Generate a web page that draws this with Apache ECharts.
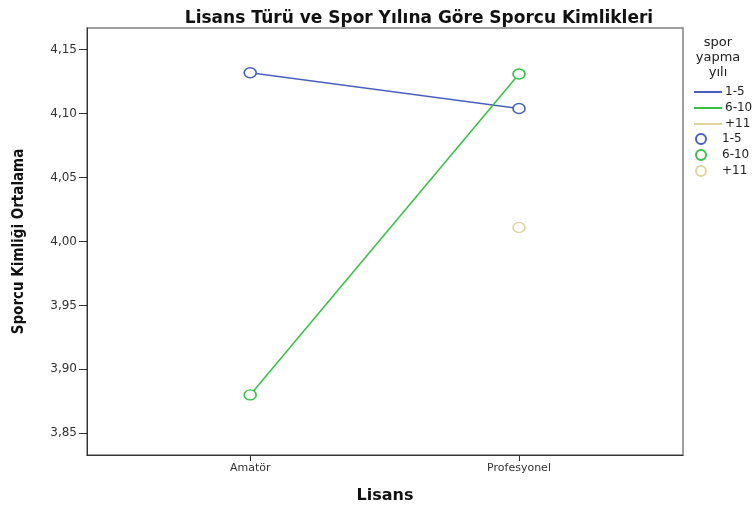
<!DOCTYPE html>
<html>
<head>
<meta charset="utf-8">
<script src="https://cdn.jsdelivr.net/npm/echarts@6/dist/echarts.min.js"></script>
<style>
html,body{margin:0;padding:0;background:#fff;}
#chart{width:752px;height:509px;}
</style>
</head>
<body>
<div id="chart"></div>
<script>
const categories = ['Amatör', 'Profesyonel'];
const groups = ['1-5', '6-10', '+11'];
const values_1_5 = [4.132, 4.104];
const values_6_10 = [3.880, 4.131];
const values_11 = [null, 4.011];
const yTicks = [3.85, 3.90, 3.95, 4.00, 4.05, 4.10, 4.15];
const colors = ['#4A60BC', '#38BE48', '#DCD5A0'];

const seriesValues = [values_1_5, values_6_10, values_11];
const toPairs = arr => arr.map((v, i) => [i, v]);
const FONT = 'DejaVu Sans';

const series = [];
groups.forEach((g, k) => {
  series.push({
    name: g, type: 'line', data: toPairs(seriesValues[k]),
    symbol: 'none', lineStyle: {color: colors[k], width: 1.5},
    itemStyle: {color: colors[k]}, connectNulls: false, z: 2
  });
});
groups.forEach((g, k) => {
  series.push({
    name: g + ' ', type: 'scatter', data: toPairs(seriesValues[k]).filter(p => p[1] != null),
    symbol: 'circle', symbolSize: [12, 10],
    itemStyle: {color: '#fff', borderColor: colors[k], borderWidth: 1.5, opacity: 1}, z: 3
  });
});

const chart = echarts.init(document.getElementById('chart'), null, {renderer: 'canvas'});
chart.setOption({
  animation: false,
  backgroundColor: '#fff',
  title: {
    text: 'Lisans Türü ve Spor Yılına Göre Sporcu Kimlikleri',
    left: 414, top: 5, textAlign: 'center',
    textStyle: {fontFamily: FONT, fontWeight: 'bold', fontSize: 17, color: '#111'}
  },
  grid: {left: 87, top: 28, right: 69, bottom: 53, show: true, borderColor: '#808080', borderWidth: 1.5},
  xAxis: {
    type: 'value', min: -0.607, max: 1.61,
    name: 'Lisans', nameLocation: 'middle', nameGap: 33,
    nameTextStyle: {fontFamily: FONT, fontWeight: 'bold', fontSize: 16, color: '#111'},
    axisLine: {onZero: false, lineStyle: {color: '#333', width: 1}},
    axisTick: {show: true, customValues: [0, 1], length: 6, lineStyle: {color: '#333'}},
    axisLabel: {customValues: [0, 1], formatter: v => categories[Math.round(v)],
      fontFamily: FONT, fontSize: 11, color: '#333', margin: 8},
    splitLine: {show: false}
  },
  yAxis: {
    type: 'value', min: 3.833, max: 4.167,
    name: 'Sporcu Kimliği Ortalama', nameLocation: 'middle', nameGap: 60, nameRotate: 90,
    nameTextStyle: {fontFamily: 'Liberation Sans Narrow, DejaVu Sans Condensed', fontWeight: 'bold', fontSize: 15, color: '#111'},
    axisLine: {show: true, onZero: false, lineStyle: {color: '#333', width: 1}},
    axisTick: {show: true, customValues: yTicks, length: 8, lineStyle: {color: '#333'}},
    axisLabel: {customValues: yTicks, formatter: v => v.toFixed(2).replace('.', ','),
      fontFamily: FONT, fontSize: 12, color: '#333', margin: 10},
    splitLine: {show: false}
  },
  legend: [
    {
      data: groups, left: 689, top: 80, orient: 'vertical',
      icon: 'rect', itemWidth: 28, itemHeight: 2, itemGap: 2,
      selectedMode: false,
      textStyle: {fontFamily: FONT, fontSize: 12, color: '#222', lineHeight: 14, padding: [0, 0, 0, -2]}
    },
    {
      data: groups.map(g => g + ' '), left: 690, top: 127, orient: 'vertical',
      icon: 'circle', itemWidth: 12, itemHeight: 10, itemGap: 2,
      selectedMode: false,
      textStyle: {fontFamily: FONT, fontSize: 12, color: '#222', lineHeight: 14, padding: [0, 0, 0, 10]}
    }
  ],
  graphic: [
    {type: 'text', x: 718, y: 35, style: {text: 'spor\nyapma\nyılı', align: 'center',
      fontFamily: FONT, fontSize: 13, lineHeight: 15, fill: '#222'}}
  ],
  series: series
});
</script>
</body>
</html>
